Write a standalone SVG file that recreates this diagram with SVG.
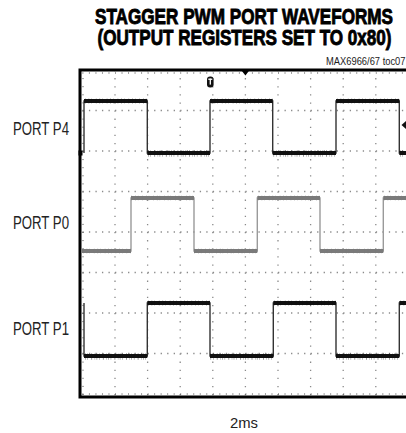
<svg xmlns="http://www.w3.org/2000/svg" width="406" height="433" viewBox="0 0 406 433">
<style>
.title{font-family:"Liberation Sans",Arial,sans-serif;font-weight:bold;font-size:17px;fill:#000;stroke:#000;stroke-width:0.7}
.lbl{font-family:"Liberation Sans",Arial,sans-serif;font-size:18px;fill:#222}
.small{font-family:"Liberation Sans",Arial,sans-serif;font-size:9.5px;fill:#222}
.hg{stroke:#8a8a8a;stroke-width:1.3;stroke-dasharray:1.3 5.22;fill:none}
.vg{stroke:#8a8a8a;stroke-width:1.3;stroke-dasharray:1.3 6.8;fill:none}
.tickh{stroke:#444;stroke-width:1;stroke-dasharray:1 5.52;fill:none}
.tickv{stroke:#444;stroke-width:1;stroke-dasharray:1 7.1;fill:none}
.border{stroke:#000;stroke-width:3;fill:none}
.edge{fill:none;stroke-width:1.4}
.lvl{fill:none;stroke-width:3.8;stroke-linecap:butt}
.noise{fill:none;stroke-width:6.5;stroke-dasharray:0.6 1.9 0.5 3.3 0.8 2.6 0.4 1.5;opacity:0.55}
.noise2{fill:none;stroke-width:5.5;stroke-dasharray:0.5 3.1 0.6 2.2 0.4 4.1;opacity:0.45}
</style>
<rect width="406" height="433" fill="#fff"/>
<g id="title">
<text class="title" transform="translate(95 23.5) scale(1 1.25)" x="0" y="0" textLength="298" lengthAdjust="spacingAndGlyphs">STAGGER PWM PORT WAVEFORMS</text>
<text class="title" transform="translate(97.5 44.5) scale(1 1.25)" x="0" y="0" textLength="294" lengthAdjust="spacingAndGlyphs">(OUTPUT REGISTERS SET TO 0x80)</text>
<text class="small" transform="translate(326 64.5) scale(1 1.15)" x="0" y="0" textLength="79.5" lengthAdjust="spacingAndGlyphs">MAX6966/67 toc07</text>
</g>
<g id="grid">
<path class="hg" d="M82.4 110.5H406M82.4 151H406M82.4 191.5H406M82.4 232H406M82.4 272.5H406M82.4 313H406M82.4 353.5H406"/>
<path class="vg" d="M115 70V397M147.6 70V397M180.2 70V397M212.8 70V397M245.4 70V397M278 70V397M310.6 70V397M343.2 70V397M375.8 70V397"/>
<path class="tickh" d="M82.4 73H406M82.4 394H406"/>
<path class="tickv" d="M83 70V397"/>
<path class="border" d="M406 70H80V397H406"/>
<polygon points="241.9,71 248.9,71 245.4,75.5" fill="#000"/>
<rect x="207" y="76.5" width="6.6" height="11" rx="3" fill="#111"/>
<rect x="208.3" y="78.6" width="4" height="1.3" fill="#fff"/>
<rect x="209.65" y="78.6" width="1.3" height="6" fill="#fff"/>
<polygon points="401.5,125 406,121 406,129" fill="#111"/>
</g>
<g id="port-p4">
<text class="lbl" x="13" y="135" textLength="56" lengthAdjust="spacingAndGlyphs">PORT P4</text>
<path class="edge" stroke="#333" d="M84 153V101H147.3V153H210V101H272.7V153H336V101H399.3V153H406"/>
<path class="lvl" stroke="#111" d="M84 101H147.3M147.3 153H210M210 101H272.7M272.7 153H336M336 101H399.3M399.3 153H406"/>
<path class="noise" stroke="#111" d="M148 153.5H209.5M273.5 153.5H335.5M400 153.5H406"/>
<path class="noise2" stroke="#111" d="M85 101H147M211 101H272.5M337 101H399"/>
<rect x="78.5" y="150.5" width="4" height="5" fill="#000"/>
</g>
<g id="port-p0">
<text class="lbl" x="13" y="229" textLength="56" lengthAdjust="spacingAndGlyphs">PORT P0</text>
<path class="edge" stroke="#9a9a9a" d="M82 251H131V198H194V251H257.3V198H320V251H383.3V198H406"/>
<path class="lvl" stroke="#7a7a7a" d="M82 251H131M131 198H194M194 251H257.3M257.3 198H320M320 251H383.3M383.3 198H406"/>
<path class="noise2" stroke="#7a7a7a" d="M83 251H130.5M194.5 251H257M320.5 251H383M131.5 198H193.5M258 198H319.5M384 198H406"/>
</g>
<g id="port-p1">
<text class="lbl" x="13" y="335" textLength="56" lengthAdjust="spacingAndGlyphs">PORT P1</text>
<path class="edge" stroke="#333" d="M84 303V356H147.3V303H210V356H273.3V303H336V356H399.3V303H406"/>
<path class="lvl" stroke="#111" d="M84 356H147.3M147.3 303H210M210 356H273.3M273.3 303H336M336 356H399.3M399.3 303H406"/>
<path class="noise" stroke="#111" d="M85 356.5H147M210.5 356.5H273M336.5 356.5H399"/>
<path class="noise2" stroke="#111" d="M148 303H209.5M274 303H335.5M400 303H406"/>
</g>
<g id="axis-label">
<text class="lbl" x="230" y="428" textLength="28" lengthAdjust="spacingAndGlyphs" style="font-size:14px">2ms</text>
</g>
</svg>
